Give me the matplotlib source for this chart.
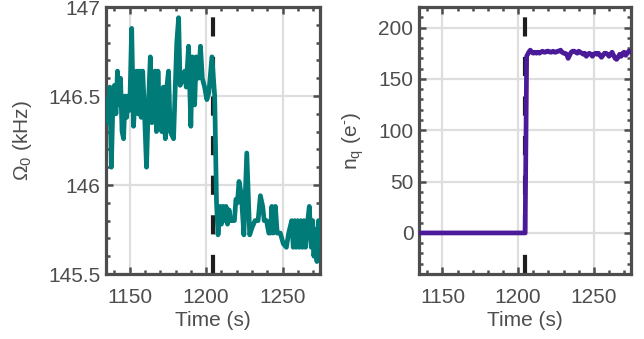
import numpy as np
import matplotlib
matplotlib.use('Agg')
import matplotlib.pyplot as plt
from matplotlib.ticker import MultipleLocator, FormatStrFormatter

plt.rcParams['font.family'] = ['Liberation Sans', 'DejaVu Sans']
plt.rcParams['mathtext.fontset'] = 'custom'
plt.rcParams['mathtext.rm'] = 'Liberation Sans'
plt.rcParams['mathtext.it'] = 'Liberation Sans:italic'

# Omega_0 (kHz) vs time (s)
time_omega = [1135, 1136, 1137, 1138, 1139, 1140, 1141, 1142, 1143, 1144,
              1145, 1146, 1147, 1148, 1149, 1150, 1151.3, 1152.5, 1153.5, 1154.5,
              1155.5, 1156.5, 1157.5, 1158.5, 1159.5, 1161, 1162, 1163.5, 1164.5, 1165.5,
              1166.5, 1167.5, 1168.5, 1169.5, 1171, 1172, 1173.3, 1174.3, 1175.4, 1176.5,
              1178.7, 1179.8, 1180.8, 1182, 1183, 1184, 1185, 1186, 1187, 1188.5,
              1190, 1191, 1192.5, 1193.5, 1195, 1196.3, 1197.5, 1199, 1200.5, 1201.8,
              1203.8, 1205.6, 1206.8, 1207.8, 1209, 1210, 1211, 1212, 1213, 1214,
              1215, 1216, 1217, 1218.5, 1219.5, 1220.5, 1221.5, 1223, 1224.7, 1226.6,
              1228.5, 1230, 1232, 1234, 1235.5, 1237, 1238, 1239.5, 1241, 1242,
              1243, 1244, 1245.3, 1246.5, 1248.5, 1250.5, 1252.5, 1254, 1256, 1257,
              1258, 1259, 1260, 1261, 1262, 1263, 1264, 1265, 1266.5, 1267.5,
              1268.8, 1269.7, 1270.5, 1271.5, 1272.5, 1273.5, 1274.5]
omega = [146.48, 146.35, 146.55, 146.1, 146.45, 146.56, 146.4, 146.64, 146.45, 146.6,
         146.3, 146.26, 146.5, 146.38, 146.5, 146.42, 146.88, 146.33, 146.5, 146.64,
         146.4, 146.64, 146.38, 146.64, 146.45, 146.1, 146.4, 146.72, 146.35, 146.5,
         146.64, 146.3, 146.64, 146.4, 146.3, 146.55, 146.26, 146.55, 146.64, 146.3,
         146.26, 146.55, 146.8, 146.94, 146.56, 146.6, 146.58, 146.64, 146.55, 146.78,
         146.33, 146.72, 146.45, 146.72, 146.6, 146.78, 146.6, 146.55, 146.48, 146.52,
         146.72, 146.5, 145.9, 145.72, 145.88, 145.78, 145.88, 145.8, 145.88, 145.78,
         145.86, 145.8, 145.8, 145.8, 145.92, 145.9, 146.02, 145.95, 145.72, 146.18,
         145.72, 145.76, 145.8, 145.8, 145.94, 145.88, 145.8, 145.8, 145.73, 145.73,
         145.88, 145.73, 145.88, 145.73, 145.73, 145.67, 145.65, 145.73, 145.8, 145.65,
         145.8, 145.65, 145.8, 145.65, 145.8, 145.65, 145.8, 145.65, 145.8, 145.88,
         145.65, 145.8, 145.6, 145.75, 145.57, 145.8, 145.78]

# n_q (e-) vs time (s)
time_nq = [1135, 1150, 1170, 1190, 1204.6, 1205.6, 1207, 1208, 1209, 1210,
           1211, 1212, 1213, 1214, 1215, 1216, 1217, 1218, 1219, 1220,
           1221, 1222, 1223, 1224, 1225, 1226, 1227, 1228, 1229, 1230,
           1231, 1232, 1233, 1234, 1235, 1236, 1237, 1238, 1239, 1240,
           1241, 1242, 1243, 1244, 1245, 1246, 1247, 1248, 1249, 1250,
           1251, 1252, 1253, 1254, 1255, 1256, 1257, 1258, 1259, 1260,
           1261, 1262, 1263, 1264, 1265, 1266, 1267, 1268, 1269, 1270,
           1271, 1272, 1273, 1274.5]
nq = [0, 0, 0, 0, 0, 172, 176, 178, 176, 175,
      176, 175, 176, 175, 176, 177, 176, 176, 177, 177,
      176, 176, 177, 176, 176, 177, 177, 178, 176, 175,
      175, 174, 170, 173, 176, 177, 177, 176, 175, 177,
      176, 175, 174, 175, 172, 174, 175, 174, 172, 174,
      175, 174, 175, 173, 171, 173, 175, 175, 174, 172,
      174, 176, 173, 170, 169, 171, 174, 172, 175, 176,
      173, 175, 177, 176]

t_event = 1204.5
xlim = (1134.5, 1274.5)

spine_col = '#4d4d4d'
text_col = '#4d4d4d'
fs = 15

fig = plt.figure(figsize=(6.44, 3.39), dpi=100)
ax1 = fig.add_axes([0.1646, 0.1917, 0.3323, 0.7876])
ax2 = fig.add_axes([0.6506, 0.1917, 0.3292, 0.7876])


def style(ax):
    for s in ax.spines.values():
        s.set_linewidth(2.3)
        s.set_color(spine_col)
    ax.grid(True, which='major', color='#dedede', linewidth=1.6, zorder=0)
    ax.set_axisbelow(True)
    ax.tick_params(which='both', direction='in', top=True, right=True,
                   color=spine_col, labelcolor=text_col, labelsize=fs)
    ax.tick_params(which='major', length=5, width=1.8)
    ax.tick_params(which='minor', length=3, width=1.8)
    ax.tick_params(axis='x', pad=10)
    ax.tick_params(axis='y', pad=4)
    ax.set_xlim(*xlim)
    ax.xaxis.set_major_locator(MultipleLocator(50))
    ax.xaxis.set_minor_locator(MultipleLocator(10))
    ax.set_xlabel('Time (s)', fontsize=fs, color=text_col, labelpad=3)
    ax.axvline(t_event, color='#1e1e1e', linewidth=3, dashes=(4.6, 4.9), zorder=2)


style(ax1)
ax1.plot(time_omega, omega, color='#007b78', linewidth=3.4, zorder=3)
ax1.set_ylim(145.5, 147)
ax1.yaxis.set_major_locator(MultipleLocator(0.5))
ax1.yaxis.set_minor_locator(MultipleLocator(0.1))
ax1.yaxis.set_major_formatter(FormatStrFormatter('%g'))
ax1.set_ylabel(r'$\Omega_0$ (kHz)', fontsize=fs, color=text_col, labelpad=10)

style(ax2)
ax2.plot(time_nq, nq, color='#4b1a98', linewidth=3.4, zorder=3)
ax2.set_ylim(-40, 220)
ax2.yaxis.set_major_locator(MultipleLocator(50))
ax2.yaxis.set_minor_locator(MultipleLocator(10))
ax2.set_ylabel(r'n$_\mathrm{q}$ (e$^{\text{-}}$)', fontsize=fs, color=text_col, labelpad=9)

fig.savefig('out.png', dpi=100)
